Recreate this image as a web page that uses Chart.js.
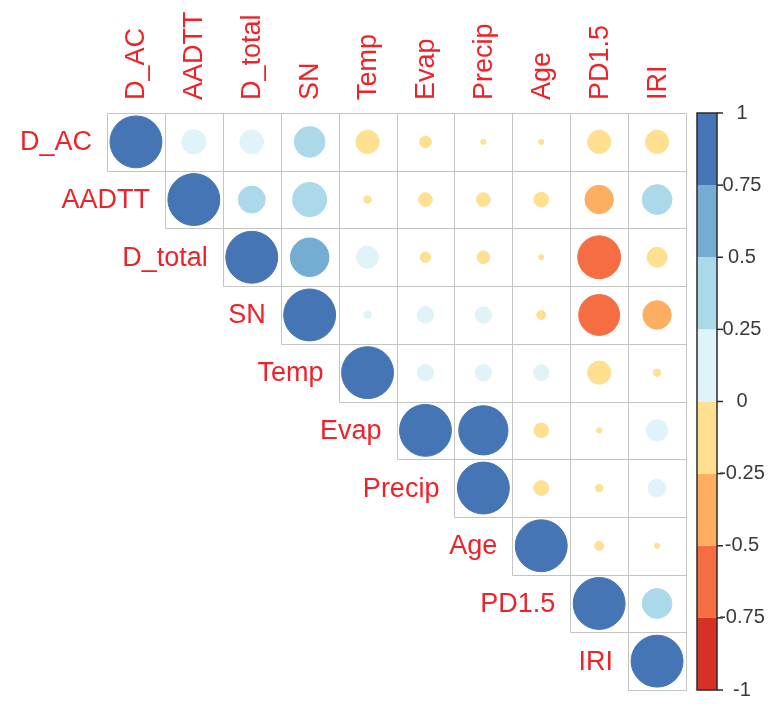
<!DOCTYPE html>
<html>
<head>
<meta charset="utf-8">
<script src="https://cdn.jsdelivr.net/npm/chart.js@4/dist/chart.umd.min.js"></script>
<style>
  html, body { margin: 0; padding: 0; background: #ffffff; }
  #wrap { width: 772px; height: 707px; }
</style>
</head>
<body>
<div id="wrap"><canvas id="corr" width="772" height="707"></canvas></div>
<script>
// Variables in matrix order
const variables = ['D_AC', 'AADTT', 'D_total', 'SN', 'Temp', 'Evap', 'Precip', 'Age', 'PD1.5', 'IRI'];

// Upper-triangle correlation coefficients; each row starts at its diagonal
const rD_AC    = [1, 0.22, 0.21, 0.35, -0.20, -0.05, -0.01, -0.01, -0.20, -0.20];
const rAADTT   = [1, 0.27, 0.43, -0.02, -0.07, -0.07, -0.08, -0.30, 0.33];
const rD_total = [1, 0.55, 0.18, -0.04, -0.06, -0.01, -0.68, -0.15];
const rSN      = [1, 0.02, 0.10, 0.10, -0.03, -0.62, -0.30];
const rTemp    = [1, 0.10, 0.10, 0.09, -0.20, -0.02];
const rEvap    = [1, 0.90, -0.08, -0.01, 0.17];
const rPrecip  = [1, -0.08, -0.02, 0.12];
const rAge     = [1, -0.03, -0.01];
const rPD15    = [1, 0.33];
const rIRI     = [1];

// Colour key: 8 classes of width 0.25 from -1 to 1
const binColors = ['#D73027', '#F46D43', '#FDAE61', '#FEE090', '#E0F3F8', '#ABD9E9', '#74ADD1', '#4575B4'];
const keyTicks = [1, 0.75, 0.5, 0.25, 0, -0.25, -0.5, -0.75, -1];
const keyLabels = ['1', '0.75', '0.5', '0.25', '0', '-0.25', '-0.5', '-0.75', '-1'];

const rows = [rD_AC, rAADTT, rD_total, rSN, rTemp, rEvap, rPrecip, rAge, rPD15, rIRI];
const points = [];
rows.forEach((row, i) => {
  row.forEach((v, k) => points.push({ x: i + k, y: i, v: v }));
});

function colorFor(v) {
  const idx = Math.max(0, Math.min(7, Math.floor((v + 1) / 0.25)));
  return binColors[idx];
}

const LABEL_FONT = '27px "Liberation Sans", Arial, sans-serif';
const LABEL_COLOR = '#EE2229';

const corrPlugin = {
  id: 'corrDecor',
  beforeDatasetsDraw(chart) {
    const { ctx, scales: { x, y } } = chart;
    const n = variables.length;
    const px = (v) => Math.round(x.getPixelForValue(v)) + 0.5;
    const py = (v) => Math.round(y.getPixelForValue(v)) + 0.5;
    ctx.save();
    ctx.strokeStyle = '#C4C4C4';
    ctx.lineWidth = 1;
    ctx.beginPath();
    // horizontal edges of the upper-triangle cells
    for (let i = 0; i <= n; i++) {
      const from = Math.max(0, i - 1);
      ctx.moveTo(px(from - 0.5), py(i - 0.5));
      ctx.lineTo(px(n - 0.5), py(i - 0.5));
    }
    // vertical edges
    for (let j = 0; j <= n; j++) {
      const to = Math.min(n - 1, j);
      ctx.moveTo(px(j - 0.5), py(-0.5));
      ctx.lineTo(px(j - 0.5), py(to + 0.5));
    }
    ctx.stroke();
    ctx.restore();
  },
  afterDraw(chart) {
    const { ctx, chartArea, scales: { x, y, key } } = chart;
    ctx.save();
    ctx.font = LABEL_FONT;
    ctx.fillStyle = LABEL_COLOR;
    // Row labels, right-aligned beside the diagonal cell
    ctx.textAlign = 'right';
    ctx.textBaseline = 'middle';
    variables.forEach((name, i) => {
      ctx.fillText(name, x.getPixelForValue(i - 0.5) - 15, y.getPixelForValue(i) + 1);
    });
    // Column labels, rotated above the grid
    variables.forEach((name, j) => {
      ctx.save();
      ctx.translate(x.getPixelForValue(j) + 1, chartArea.top - 13);
      ctx.rotate(-Math.PI / 2);
      ctx.textAlign = 'left';
      ctx.textBaseline = 'middle';
      ctx.fillText(name, 0, 0);
      ctx.restore();
    });
    // Colour key
    const kl = chartArea.right + 11, kw = 20;
    for (let b = 0; b < 8; b++) {
      const lo = -1 + b * 0.25, hi = lo + 0.25;
      const t = key.getPixelForValue(hi), btm = key.getPixelForValue(lo);
      ctx.fillStyle = binColors[b];
      ctx.fillRect(kl, t, kw, btm - t);
    }
    ctx.strokeStyle = '#2b2b2b';
    ctx.lineWidth = 1.5;
    ctx.strokeRect(kl, key.getPixelForValue(1), kw, key.getPixelForValue(-1) - key.getPixelForValue(1));
    ctx.font = '20px "Liberation Sans", Arial, sans-serif';
    ctx.fillStyle = '#3a3a3a';
    ctx.textAlign = 'center';
    ctx.textBaseline = 'middle';
    keyTicks.forEach((v, i) => {
      const ty = key.getPixelForValue(v);
      ctx.beginPath();
      ctx.moveTo(kl + kw, ty);
      ctx.lineTo(kl + kw + 6, ty);
      ctx.stroke();
      ctx.fillText(keyLabels[i], chartArea.right + 56, ty);
    });
    ctx.restore();
  }
};

new Chart(document.getElementById('corr'), {
  type: 'scatter',
  data: {
    datasets: [{
      data: points,
      pointRadius: (c) => {
        const xs = c.chart.scales.x, ys = c.chart.scales.y;
        const cw = Math.abs(xs.getPixelForValue(1) - xs.getPixelForValue(0));
        const ch = Math.abs(ys.getPixelForValue(1) - ys.getPixelForValue(0));
        return 0.45 * Math.min(cw, ch) * Math.sqrt(Math.abs(c.raw.v));
      },
      backgroundColor: (c) => colorFor(c.raw.v),
      borderColor: (c) => colorFor(c.raw.v),
      borderWidth: 1
    }]
  },
  options: {
    responsive: false,
    animation: false,
    events: [],
    layout: { padding: { left: 107, top: 113, right: 86, bottom: 17 } },
    plugins: { legend: { display: false }, tooltip: { enabled: false } },
    scales: {
      x: { type: 'linear', min: -0.5, max: 9.5, display: false },
      y: { type: 'linear', min: -0.5, max: 9.5, reverse: true, display: false },
      key: { type: 'linear', axis: 'y', min: -1, max: 1, display: false }
    }
  },
  plugins: [corrPlugin]
});
</script>
</body>
</html>
